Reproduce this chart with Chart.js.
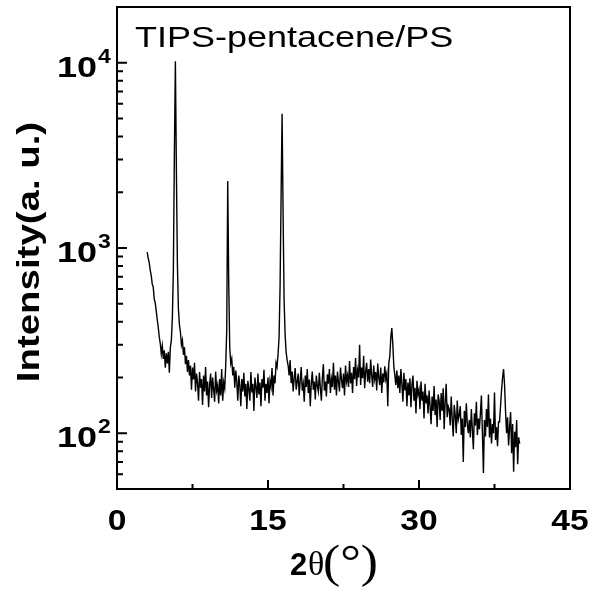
<!DOCTYPE html>
<html>
<head>
<meta charset="utf-8">
<script src="https://cdn.jsdelivr.net/npm/chart.js@4.4.1/dist/chart.umd.min.js"></script>
<style>
  html, body { margin: 0; padding: 0; background: #fff; }
  #wrap { width: 592px; height: 590px; position: relative; }
</style>
</head>
<body>
<div id="wrap"><canvas id="xrd"></canvas></div>
<script>
// XRD scan, 2θ from 3.0° to 40.0° in 0.1° steps
const twoThetaStart = 3.0;
const twoThetaStep = 0.1;
const intensity = [
  950, 880, 835, 760, 712, 640, 615, 530, 505, 455,
  410, 372, 330, 305, 268, 296, 252, 280, 226, 270,
  238, 275, 212, 290, 318, 420, 760, 3200, 10200, 2600,
  820, 470, 385, 352, 300, 318, 265, 292, 236, 262,
  214, 248, 205, 232, 172, 226, 195, 240, 168, 210,
  186, 150, 214, 176, 196, 142, 205, 168, 228, 160,
  190, 138, 182, 210, 155, 200, 172, 148, 215, 170,
  182, 145, 196, 160, 222, 150, 188, 175, 232, 360,
  2300, 640, 290, 238, 252, 205, 228, 176, 218, 190,
  150, 205, 182, 140, 196, 168, 212, 158, 185, 135,
  192, 172, 150, 214, 166, 185, 132, 200, 178, 155,
  210, 162, 188, 140, 196, 176, 220, 150, 185, 165,
  200, 145, 192, 178, 225, 160, 205, 186, 240, 228,
  268, 330, 620, 1900, 5300, 1500, 520, 340, 275, 248,
  232, 205, 248, 186, 215, 168, 198, 225, 172, 190,
  210, 160, 192, 228, 170, 185, 148, 205, 178, 222,
  165, 195, 140, 186, 215, 172, 190, 152, 205, 180,
  168, 212, 176, 150, 198, 236, 170, 190, 158, 208,
  185, 222, 165, 196, 178, 240, 172, 205, 160, 215,
  188, 168, 226, 195, 175, 210, 160, 232, 190, 205,
  178, 245, 186, 212, 165, 228, 196, 255, 180, 218,
  200, 300, 182, 226, 198, 262, 175, 215, 240, 190,
  222, 186, 250, 205, 178, 232, 196, 214, 170, 238,
  200, 182, 226, 165, 210, 188, 230, 196, 210, 140,
  240, 260, 330, 370, 300, 230, 205, 182, 218, 175,
  205, 165, 222, 185, 148, 212, 170, 196, 140, 188,
  160, 198, 138, 182, 205, 150, 176, 128, 192, 162,
  172, 135, 190, 150, 168, 120, 185, 145, 160, 128,
  170, 140, 112, 158, 132, 180, 125, 152, 108, 162,
  150, 118, 165, 132, 175, 105, 148, 185, 122, 140,
  135, 110, 158, 120, 96, 142, 125, 100, 150, 118,
  125, 140, 98, 120, 70, 132, 108, 145, 112, 100,
  118, 95, 135, 105, 82, 128, 110, 148, 98, 120,
  105, 128, 160, 100, 61, 118, 96, 135, 108, 162,
  95, 120, 88, 112, 100, 166, 92, 108, 85, 115,
  115, 140, 170, 200, 222, 182, 130, 100, 122, 86,
  108, 130, 78, 112, 62, 102, 84, 118, 68, 95,
  88,
];

const xMajorTicks = [0, 15, 30, 45];
const xMinorTicks = [7.5, 22.5, 37.5];
const xTickLabels = ['0', '15', '30', '45'];
const yMajorTicks = [100, 1000, 10000];
const yTickExponents = ['2', '3', '4'];
const yMinorTicks = [
  50, 60, 70, 80, 90,
  200, 300, 400, 500, 600, 700, 800, 900,
  2000, 3000, 4000, 5000, 6000, 7000, 8000, 9000,
];

const SANS = "'Liberation Sans', Arial, sans-serif";
const SERIF = "'Liberation Serif', 'Times New Roman', serif";

function wideText(ctx, text, x, y, font, sx, align = 'left', angle = 0) {
  ctx.save();
  ctx.translate(x, y);
  if (angle) ctx.rotate(angle);
  ctx.scale(sx, 1);
  ctx.font = font;
  ctx.textAlign = align;
  ctx.textBaseline = 'alphabetic';
  ctx.fillStyle = '#000';
  ctx.fillText(text, 0, 0);
  ctx.restore();
}

const framePlugin = {
  id: 'xrdFrame',
  afterDatasetsDraw(chart) {
    const { ctx, chartArea: a, scales } = chart;
    const xs = scales.x;
    const ys = scales.y;
    ctx.save();
    ctx.strokeStyle = '#000';
    ctx.lineWidth = 2;
    ctx.strokeRect(a.left, a.top, a.right - a.left, a.bottom - a.top);

    // inward ticks
    ctx.beginPath();
    xMajorTicks.forEach((v) => {
      const x = xs.getPixelForValue(v);
      ctx.moveTo(x, a.bottom);
      ctx.lineTo(x, a.bottom - 9);
    });
    xMinorTicks.forEach((v) => {
      const x = xs.getPixelForValue(v);
      ctx.moveTo(x, a.bottom);
      ctx.lineTo(x, a.bottom - 5);
    });
    yMajorTicks.forEach((v) => {
      const y = ys.getPixelForValue(v);
      ctx.moveTo(a.left, y);
      ctx.lineTo(a.left + 10, y);
    });
    yMinorTicks.forEach((v) => {
      const y = ys.getPixelForValue(v);
      ctx.moveTo(a.left, y);
      ctx.lineTo(a.left + 6, y);
    });
    ctx.stroke();
    ctx.restore();

    // tick labels
    xMajorTicks.forEach((v, i) => {
      wideText(ctx, xTickLabels[i], xs.getPixelForValue(v), 530, `bold 30px ${SANS}`, 1.12, 'center');
    });
    yMajorTicks.forEach((v, i) => {
      const y = ys.getPixelForValue(v);
      wideText(ctx, '10', 97, y + 14, `bold 30px ${SANS}`, 1.2, 'right');
      wideText(ctx, yTickExponents[i], 98, y, `bold 20px ${SANS}`, 1.15, 'left');
    });

    // axis titles
    wideText(ctx, 'Intensity(a. u.)', 39, 252, `bold 32px ${SANS}`, 1.2, 'center', -Math.PI / 2);
    wideText(ctx, '2', 290, 575, `bold 31px ${SANS}`, 1.0, 'left');
    wideText(ctx, 'θ', 308, 575, `34px ${SERIF}`, 1.0, 'left');
    wideText(ctx, '(°)', 323, 577, `46px ${SERIF}`, 1.12, 'left');

    // sample label
    wideText(ctx, 'TIPS-pentacene/PS', 135, 47, `30px ${SANS}`, 1.2, 'left');
  },
};

const points = intensity.map((v, i) => ({ x: twoThetaStart + i * twoThetaStep, y: v }));

new Chart(document.getElementById('xrd'), {
  type: 'line',
  data: {
    datasets: [{
      data: points,
      borderColor: '#000',
      borderWidth: 1.4,
      pointRadius: 0,
      tension: 0,
      fill: false,
    }],
  },
  options: {
    responsive: true,
    maintainAspectRatio: false,
    animation: false,
    layout: { padding: { left: 117, right: 22, top: 7, bottom: 101 } },
    plugins: { legend: { display: false }, tooltip: { enabled: false } },
    scales: {
      x: { type: 'linear', min: 0, max: 45, display: false },
      y: { type: 'logarithmic', min: 50, max: 20000, display: false },
    },
  },
  plugins: [framePlugin],
});
</script>
</body>
</html>
